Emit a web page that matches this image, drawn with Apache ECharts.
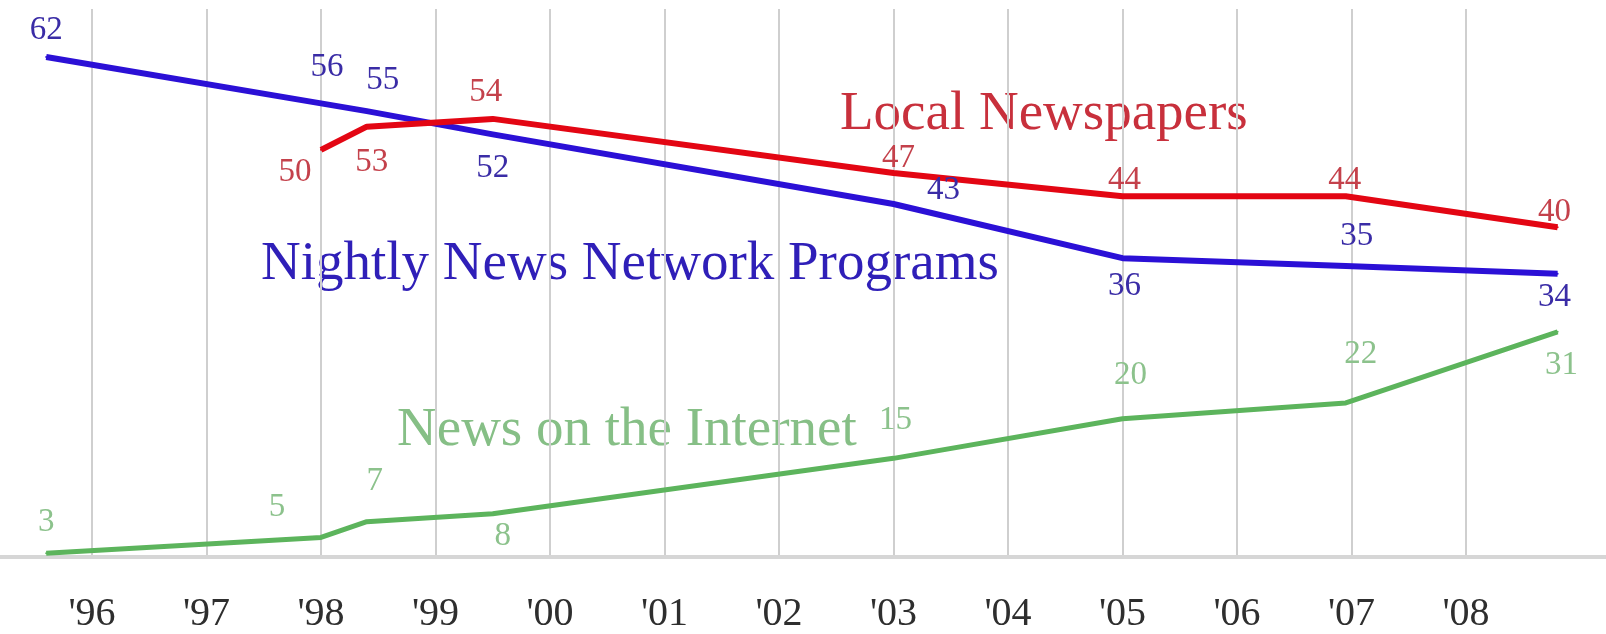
<!DOCTYPE html>
<html>
<head>
<meta charset="utf-8">
<title>News audiences 1996–2008</title>
<script src="https://cdn.jsdelivr.net/npm/echarts@6/dist/echarts.min.js"></script>
<style>
  html, body { margin: 0; padding: 0; background: #ffffff; }
  #chart { width: 1606px; height: 634px; }
</style>
</head>
<body>
<div id="chart"></div>
<script>
// Survey dates (fractional years) shared by all three series
const surveyYears = [1995.6, 1998.0, 1998.4, 1999.5, 2003.0, 2005.0, 2006.95, 2008.8];

// Percent who regularly use each source
const networkNews     = [62, 56, 55, 52, 43, 36, 35, 34];
const localNewspapers = [null, 50, 53, 54, 47, 44, 44, 40];
const internetNews    = [3, 5, 7, 8, 15, 20, 22, 31];

// Year ticks along the bottom
const tickYears  = [1996, 1997, 1998, 1999, 2000, 2001, 2002, 2003, 2004, 2005, 2006, 2007, 2008];
const tickLabels = ["'96", "'97", "'98", "'99", "'00", "'01", "'02", "'03", "'04", "'05", "'06", "'07", "'08"];

// Value-label placement (pixel shift from each point), one entry per survey date
const networkLabelShift = [[0, -27], [6, -36], [16, -31], [0, 34], [50, -14], [2, 28], [11, -30], [-3, 24]];
const paperLabelShift   = [null, [-26, 22], [5, 36], [-7, -27], [5, -15], [2, -16], [-1, -16], [-3, -15]];
const webLabelShift     = [[0, -31], [-44, -30], [8, -40], [10, 23], [2, -38], [8, -43], [15, -49], [4, 34]];

const SERIF = '"Liberation Serif", "DejaVu Serif", serif';
const GRID_GRAY = '#cfcfcf';

// The x axis runs 1995–2010 so the plot fills the page; only the labelled
// years get a visible vertical rule (split lines take these colours in turn).
const AXIS_MIN = 1995, AXIS_MAX = 2010;
const splitColors = [];
for (let y = AXIS_MIN; y <= AXIS_MAX; y++) {
  splitColors.push(tickYears.indexOf(y) >= 0 ? GRID_GRAY : 'rgba(0,0,0,0)');
}

function buildPoints(values, shifts) {
  const pts = [];
  values.forEach((v, i) => {
    if (v === null) return;
    pts.push({ value: [surveyYears[i], v], label: { offset: shifts[i] } });
  });
  return pts;
}

function lineSeries(name, values, shifts, lineColor, labelColor, width, axisIndex) {
  return {
    name: name,
    type: 'line',
    yAxisIndex: axisIndex,
    data: buildPoints(values, shifts),
    smooth: false,
    symbol: 'circle',
    symbolSize: 2,
    itemStyle: { color: lineColor },
    lineStyle: { color: lineColor, width: width, cap: 'butt', join: 'round' },
    label: {
      show: true,
      position: 'inside',
      fontFamily: SERIF,
      fontSize: 33,
      color: labelColor,
      formatter: p => String(p.value[1])
    },
    emphasis: { disabled: true },
    silent: true
  };
}

const chart = echarts.init(document.getElementById('chart'), null, { renderer: 'canvas' });

chart.setOption({
  animation: false,
  backgroundColor: '#ffffff',
  grid: { left: -22.5, width: 1717.5, top: 9, height: 548, outerBoundsMode: 'none' },
  xAxis: {
    type: 'value',
    min: AXIS_MIN,
    max: AXIS_MAX,
    interval: 1,
    axisLine: { show: true, onZero: false, lineStyle: { color: '#d6d6d6', width: 4 } },
    axisTick: { show: false },
    splitLine: { show: true, lineStyle: { color: splitColors, width: 2 } },
    axisLabel: {
      show: true,
      margin: 37,
      fontFamily: SERIF,
      fontSize: 40,
      color: '#2e2e2e',
      formatter: v => {
        const i = tickYears.indexOf(Math.round(v));
        return i >= 0 ? tickLabels[i] : '';
      }
    }
  },
  yAxis: [
    // scale for the network and newspaper lines
    { type: 'value', min: -2.61, max: 68.2, show: false, splitLine: { show: false } },
    // scale for the internet line
    { type: 'value', min: 2.53, max: 71.8, show: false, splitLine: { show: false } }
  ],
  series: [
    lineSeries('Nightly News Network Programs', networkNews, networkLabelShift, '#2b10d6', '#3a2ca6', 6, 0),
    lineSeries('Local Newspapers', localNewspapers, paperLabelShift, '#e30613', '#c4414b', 6, 0),
    lineSeries('News on the Internet', internetNews, webLabelShift, '#5cb45c', '#8cc28c', 5, 1)
  ],
  graphic: [
    {
      type: 'text', x: 840, y: 115, silent: true,
      style: { text: 'Local Newspapers', fontFamily: SERIF, fontSize: 55, fill: '#c8303c', align: 'left', verticalAlign: 'middle' }
    },
    {
      type: 'text', x: 261, y: 265, silent: true,
      style: { text: 'Nightly News Network Programs', fontFamily: SERIF, fontSize: 55, fill: '#2f1fb8', align: 'left', verticalAlign: 'middle' }
    },
    {
      type: 'text', x: 397, y: 431, silent: true,
      style: { text: 'News on the Internet', fontFamily: SERIF, fontSize: 55, fill: '#86bf86', align: 'left', verticalAlign: 'middle' }
    }
  ]
});
</script>
</body>
</html>
